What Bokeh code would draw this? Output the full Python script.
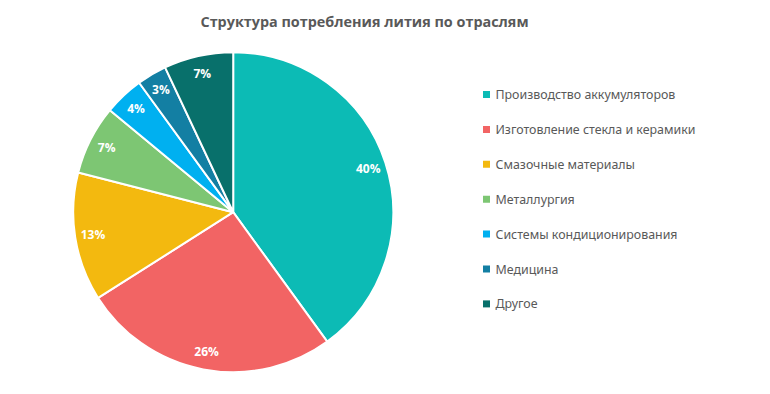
import numpy as np
from bokeh.plotting import figure
from bokeh.models import ColumnDataSource, Range1d
from bokeh.core.properties import value
from bokeh.embed import file_html
from bokeh.resources import INLINE

title = "Структура потребления лития по отраслям"
categories = ["Производство аккумуляторов", "Изготовление стекла и керамики",
              "Смазочные материалы", "Металлургия", "Системы кондиционирования",
              "Медицина", "Другое"]
shares = [40, 26, 13, 7, 4, 3, 7]
colors = ["#0CBBB5", "#F26464", "#F3B90F", "#7DC673", "#00B0F0", "#137FA3", "#08706B"]

W, H = 754, 378
p = figure(width=W, height=H, output_backend="svg", toolbar_location=None,
           x_range=Range1d(0, W), y_range=Range1d(0, H), min_border=0,
           background_fill_color="white", border_fill_color="white")
p.axis.visible = False
p.grid.visible = False
p.outline_line_color = None

# pie layout (pixel coordinates in plot frame, y up)
cx, cy, r = 232.7, H - 211.7, 160

vals = np.array(shares, dtype=float)
frac = vals / vals.sum()
cum = np.concatenate([[0], np.cumsum(frac)])
start = np.pi / 2 - cum[:-1] * 2 * np.pi
end = np.pi / 2 - cum[1:] * 2 * np.pi
mid = (start + end) / 2
lr = 142
src = ColumnDataSource(dict(start=start, end=end, color=colors,
                            lx=cx + lr * np.cos(mid), ly=cy + lr * np.sin(mid),
                            lab=[f"{v}%" for v in shares]))
p.wedge(x=cx, y=cy, radius=r, start_angle="end", end_angle="start",
        fill_color="color", line_color="white", line_width=2, source=src)
p.text(x="lx", y="ly", text="lab", source=src, text_color="white",
       text_font=value("Open Sans"), text_font_style="bold", text_font_size="12px",
       text_align="center", text_baseline="middle")

# title
p.text(x=[364], y=[H - 21], text=[title], text_color="#595959",
       text_font=value("Open Sans"), text_font_style="bold", text_font_size="14.4px",
       text_align="center", text_baseline="middle")

# legend
lx0 = 486
ly0 = H - 94
pitch = 34.9
ys = [ly0 - i * pitch for i in range(len(categories))]
lsrc = ColumnDataSource(dict(x=[lx0] * len(categories), tx=[lx0 + 9] * len(categories),
                             y=ys, color=colors, lab=categories))
p.scatter(x="x", y="y", marker="square", size=7, fill_color="color", line_color=None, source=lsrc)
p.text(x="tx", y="y", text="lab", source=lsrc, text_color="#595959",
       text_font=value("Noto Sans"), text_font_size="12.4px",
       text_align="left", text_baseline="middle")

open("out.html", "w").write(file_html(p, INLINE))
